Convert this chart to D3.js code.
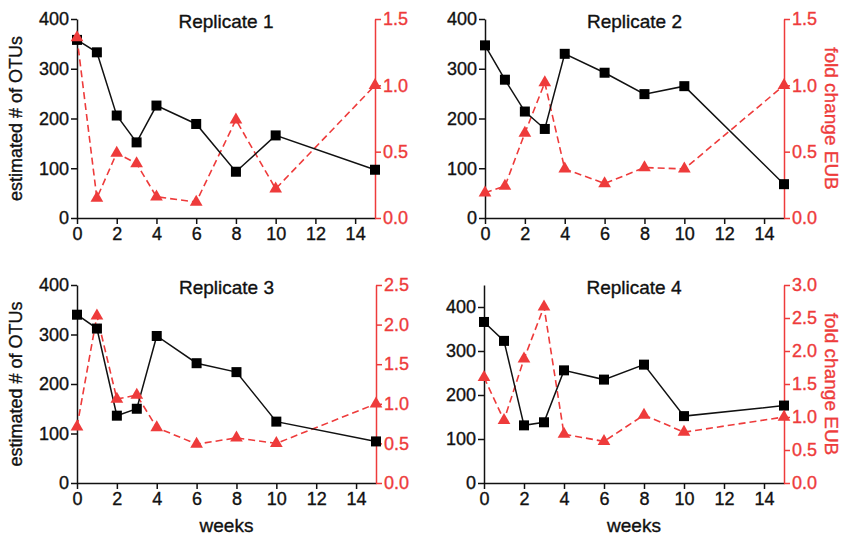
<!DOCTYPE html>
<meta charset="utf-8">
<body style="margin:0;background:#fff">
<script src="https://d3js.org/d3.v7.min.js"></script>
<script>

var weeks = [0, 1, 2, 3, 4, 6, 8, 10, 15];
var xTicks = [0, 2, 4, 6, 8, 10, 12, 14];

var otus1 = [358, 333, 206, 152, 226, 189, 93, 166, 97];
var otus2 = [347, 278, 214, 179, 330, 292, 249, 265, 68];
var otus3 = [340, 312, 136, 150, 297, 242, 224, 124, 84];
var otus4 = [366, 323, 131, 138, 256, 235, 269, 152, 176];

var eub1 = [1.36, 0.15, 0.49, 0.41, 0.16, 0.12, 0.74, 0.22, 1.0];
var eub2 = [0.19, 0.24, 0.64, 1.02, 0.37, 0.26, 0.38, 0.37, 1.0];
var eub3 = [0.71, 2.11, 1.06, 1.11, 0.70, 0.49, 0.57, 0.50, 1.0];
var eub4 = [1.60, 0.95, 1.88, 2.67, 0.74, 0.63, 1.03, 0.77, 1.0];

var titles = ['Replicate 1', 'Replicate 2', 'Replicate 3', 'Replicate 4'];
var leftMax = [400, 400, 400, 450];
var leftTicks = [0, 100, 200, 300, 400];
var rightMax = [1.5, 1.5, 2.5, 3.0];
var rightStep = 0.5;

var RED = '#ee3b3b';
var FONT = 'Liberation Sans, Arial, sans-serif';

var svg = d3.select('body').append('svg')
  .attr('width', 846).attr('height', 538)
  .style('font-family', FONT);

// panel boxes: left axis x, right axis x, top y, bottom y
var boxes = [
  {x0: 77, x1: 375, y0: 19, y1: 218},
  {x0: 485, x1: 784, y0: 19, y1: 218},
  {x0: 77, x1: 376, y0: 285, y1: 483},
  {x0: 484, x1: 784, y0: 285, y1: 483}
];
var otus = [otus1, otus2, otus3, otus4];
var eubs = [eub1, eub2, eub3, eub4];

// slightly heavier text, the reference is a blurry scan
var heft = s => s.attr('stroke', function() { return d3.select(this).attr('fill'); })
  .attr('stroke-width', 0.35);

boxes.forEach(function(b, i) {
  var g = svg.append('g');
  var x = d3.scaleLinear().domain([0, 15]).range([b.x0, b.x1]);
  var yl = d3.scaleLinear().domain([0, leftMax[i]]).range([b.y1, b.y0]);
  var yr = d3.scaleLinear().domain([0, rightMax[i]]).range([b.y1, b.y0]);
  var rt = d3.range(0, rightMax[i] + 1e-9, rightStep);

  var ax = g.append('g').attr('transform', 'translate(0,' + b.y1 + ')')
    .call(d3.axisBottom(x).tickValues(xTicks).tickSize(6).tickPadding(3).tickSizeOuter(0));
  ax.selectAll('text').attr('font-size', 18).attr('fill', '#111').call(heft);
  ax.selectAll('line,path').attr('stroke', '#111').attr('stroke-width', 1.5);

  var al = g.append('g').attr('transform', 'translate(' + b.x0 + ',0)')
    .call(d3.axisLeft(yl).tickValues(leftTicks).tickSize(6).tickPadding(2).tickSizeOuter(0));
  al.selectAll('text').attr('font-size', 18).attr('fill', '#111').call(heft);
  al.selectAll('line,path').attr('stroke', '#111').attr('stroke-width', 1.5);

  var ar = g.append('g').attr('transform', 'translate(' + b.x1 + ',0)')
    .call(d3.axisRight(yr).tickValues(rt).tickFormat(d3.format('.1f')).tickSize(6).tickPadding(2).tickSizeOuter(0));
  ar.selectAll('text').attr('font-size', 18).attr('fill', RED).call(heft);
  ar.selectAll('line,path').attr('stroke', RED).attr('stroke-width', 1.5);

  g.append('text').text(titles[i])
    .attr('x', (b.x0 + b.x1) / 2).attr('y', b.y0 + 9)
    .attr('text-anchor', 'middle').attr('font-size', 19).attr('fill', '#111').call(heft);

  var pts = weeks.map(function(w, k) { return [w, otus[i][k], eubs[i][k]]; });

  g.append('path').datum(pts)
    .attr('fill', 'none').attr('stroke', RED).attr('stroke-width', 1.6)
    .attr('stroke-dasharray', '7,4')
    .attr('d', d3.line().x(d => x(d[0])).y(d => yr(d[2])));
  g.append('path').datum(pts)
    .attr('fill', 'none').attr('stroke', '#111').attr('stroke-width', 1.5)
    .attr('d', d3.line().x(d => x(d[0])).y(d => yl(d[1])));

  g.selectAll('.sq').data(pts).enter().append('rect')
    .attr('x', d => x(d[0]) - 5).attr('y', d => yl(d[1]) - 5)
    .attr('width', 10).attr('height', 10).attr('fill', '#000');
  g.selectAll('.tri').data(pts).enter().append('path')
    .attr('transform', d => 'translate(' + x(d[0]) + ',' + yr(d[2]) + ')')
    .attr('d', d3.symbol().type(d3.symbolTriangle).size(70))
    .attr('fill', RED);

  if (i % 2 === 0) {
    g.append('text').text('estimated # of OTUs')
      .attr('transform', 'translate(22,' + ((b.y0 + b.y1) / 2) + ') rotate(-90)')
      .attr('text-anchor', 'middle').attr('font-size', 18).attr('fill', '#111').call(heft);
  } else {
    g.append('text').text('fold change EUB')
      .attr('transform', 'translate(825,' + ((b.y0 + b.y1) / 2) + ') rotate(90)')
      .attr('text-anchor', 'middle').attr('font-size', 19).attr('fill', RED).call(heft);
  }
  if (i >= 2) {
    g.append('text').text('weeks')
      .attr('x', (b.x0 + b.x1) / 2).attr('y', 532)
      .attr('text-anchor', 'middle').attr('font-size', 19).attr('fill', '#111').call(heft);
  }
});

</script>
</body>
</html>
